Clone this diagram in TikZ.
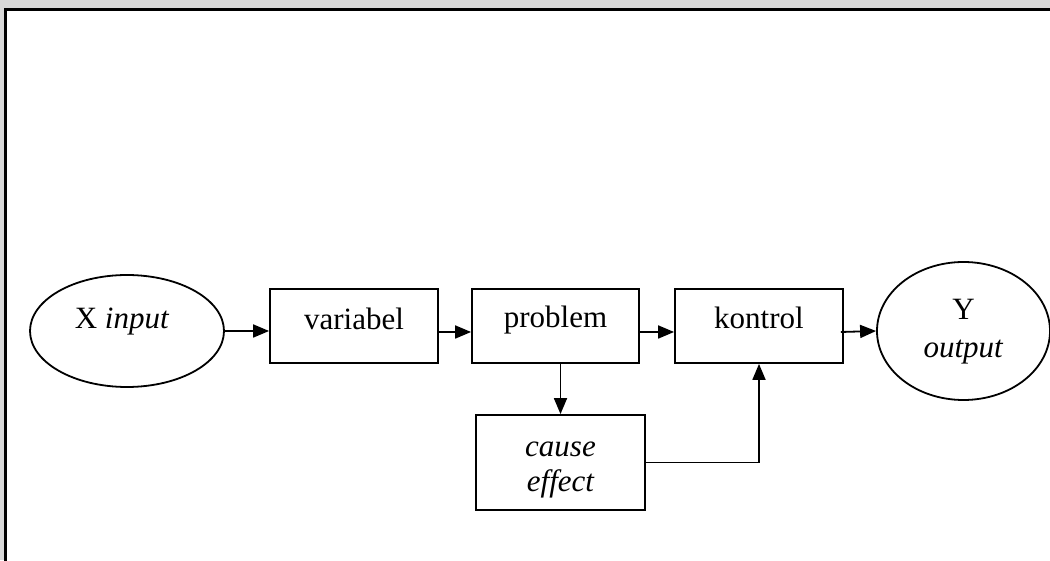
\documentclass[tikz,border=0pt]{standalone}
\usepackage{fontspec}
\setmainfont{Liberation Serif}
\usetikzlibrary{arrows.meta,shapes.geometric}
\definecolor{pagegrey}{HTML}{D8D8D8}
\begin{document}
\begin{tikzpicture}[x=1pt,y=1pt,
  every node/.style={font=\fontsize{31}{37}\selectfont},
  blockbox/.style={draw,line width=1.8pt,rectangle,inner sep=0pt},
  oval/.style={draw,line width=1.8pt,ellipse,inner sep=0pt},
  flow/.style={line width=1.8pt,-{Triangle[length=16pt,width=13pt]}}]
  \useasboundingbox (0,0) rectangle (1050,560);
  \begin{scope}
    \clip (0,0) rectangle (1050,560);
    \fill[pagegrey] (0,0) rectangle (1050,560);
    \draw[fill=white,line width=3pt] (5,550) rectangle (1070,-20);
  \end{scope}

  % nodes
  \node[oval,minimum width=194pt,minimum height=112pt] (xin) at (127,229) {};
  \node (xintext) at (122,238) {X \textit{input}};
  \node[blockbox,minimum width=168pt,minimum height=74pt] (var) at (354,234) {};
  \node (vartext) at (354,241) {variabel};
  \node[blockbox,minimum width=167pt,minimum height=74pt] (prob) at (555.5,234) {};
  \node (probtext) at (555.5,240) {problem};
  \node[blockbox,minimum width=168pt,minimum height=74pt] (kon) at (759,234) {};
  \node (kontext) at (759,242) {kontrol};
  \node[blockbox,minimum width=169pt,minimum height=95pt] (ce) at (560.5,97.5) {};
  \node[align=center,font=\fontsize{31}{35}\selectfont\itshape] (cetext) at (560.5,90) {cause\\effect};
  \node[oval,minimum width=173pt,minimum height=138pt] (yout) at (963.5,229) {};
  \node[align=center,font=\fontsize{31}{38}\selectfont] (youttext) at (963.5,228) {Y\\\textit{output}};

  % connectors
  \draw[flow] (xin.east) -- (xin.east -| var.west);
  \draw[flow] ([yshift=-6pt]var.east) -- ([yshift=-6pt]prob.west);
  \draw[flow] ([yshift=-6pt]prob.east) -- ([yshift=-6pt]kon.west);
  \draw[flow] ([yshift=-6pt,xshift=-3pt]kon.east) -- (yout.west);
  \draw[flow] (ce.north |- prob.south) -- (ce.north);
  \draw[flow] (ce.east) -| (kon.south);
\end{tikzpicture}
\end{document}
